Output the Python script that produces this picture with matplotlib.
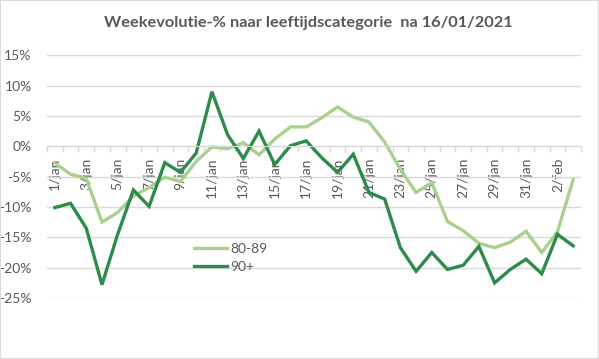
import matplotlib
matplotlib.use('Agg')
from matplotlib import pyplot as plt
from matplotlib.patches import Rectangle

# DATA
DAYS = [f'{d}/jan' for d in range(1, 32)] + ['1/feb', '2/feb', '3/feb']
AGE_80_89 = [-2.8, -4.6, -5.3, -12.5, -10.9, -8.2, -6.8, -5.1, -5.8, -2.5,
             -0.1, -0.4, 0.6, -1.4, 1.2, 3.2, 3.2, 4.7, 6.5, 4.8,
             4.0, 0.7, -3.8, -7.6, -6.0, -12.4, -13.9, -16.0, -16.7, -15.8,
             -14.0, -17.5, -14.1, -5.5]
AGE_90_PLUS = [-10.1, -9.4, -13.5, -22.8, -14.5, -7.2, -9.9, -2.7, -4.3, -1.1,
               9.0, 1.9, -2.0, 2.5, -3.0, 0.1, 0.9, -1.9, -4.3, -1.3,
               -7.6, -8.7, -16.7, -20.6, -17.5, -20.3, -19.6, -16.5, -22.5, -20.3,
               -18.6, -21.0, -14.5, -16.4]
YTICKS = [15, 10, 5, 0, -5, -10, -15, -20, -25]
TITLE = 'Weekevolutie-% naar leeftijdscategorie  na 16/01/2021'

# STYLE
plt.rcParams['font.family'] = ['Lato', 'DejaVu Sans']
GRID = '#D9D9D9'
TXT = '#595959'
LIGHT = '#A9D18E'
DARK = '#2E8B4A'

W, H = 599, 359
fig = plt.figure(figsize=(W/100, H/100), dpi=100)
ax = fig.add_axes([47/W, 1-298/H, (581-47)/W, (298-55.3)/H])

x = list(range(len(DAYS)))
ax.plot(x, AGE_80_89, color=LIGHT, lw=2.4, label='80-89', solid_joinstyle='miter')
ax.plot(x, AGE_90_PLUS, color=DARK, lw=2.4, label='90+', solid_joinstyle='miter')

ax.set_xlim(-0.5, len(DAYS)-0.5)
ax.set_ylim(-25, 15)
ax.set_yticks(YTICKS, [f'{v}%' for v in YTICKS])
ax.grid(axis='y', color=GRID, lw=1)
ax.set_axisbelow(True)
for s in ('top', 'right', 'left'):
    ax.spines[s].set_visible(False)
ax.spines['bottom'].set_position(('data', 0))
ax.spines['bottom'].set_color(GRID)
ax.tick_params(axis='y', length=0, pad=11, labelsize=10, labelcolor=TXT)

ax.set_xticks(x[::2], DAYS[::2], rotation=90)
ax.set_xticks([i - 0.5 for i in range(len(DAYS)+1)], minor=True)
ax.tick_params(axis='x', which='major', length=0, pad=8, labelsize=10, labelcolor=TXT)
ax.tick_params(axis='x', which='minor', length=4, color=GRID, width=1)

fig.legend(loc='upper left', bbox_to_anchor=(194/W, 1-243/H), frameon=False,
           fontsize=10, handlelength=2.4, handletextpad=0.2, labelspacing=0.45,
           borderpad=0, borderaxespad=0, labelcolor=TXT)

fig.text(308/W, 1-23/H, TITLE, ha='center', va='center', fontsize=11.8,
         fontweight='bold', color=TXT)
fig.patches.append(Rectangle((0, 0), 1, 1, transform=fig.transFigure, fill=False,
                             edgecolor=GRID, lw=1.5))

fig.savefig('out.png', dpi=100)
